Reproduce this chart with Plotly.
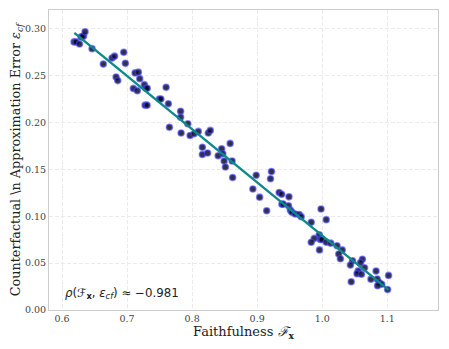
import plotly.graph_objects as go

# faithfulness vs counterfactual approximation error
faithfulness = [
    0.6185, 0.6215, 0.6269, 0.6292, 0.6331, 0.6315, 0.6354, 0.6462, 0.6635, 0.6769,
    0.6808, 0.6949, 0.6974, 0.6831, 0.6857, 0.7123, 0.7174, 0.7195, 0.7266, 0.7097,
    0.7158, 0.7290, 0.7310, 0.7277, 0.7308, 0.7497, 0.7520, 0.7600, 0.7635, 0.7651,
    0.7823, 0.7823, 0.7831, 0.7934, 0.7969, 0.8031, 0.8095, 0.8249, 0.8280, 0.8158,
    0.8158, 0.8238, 0.8400, 0.8454, 0.8472, 0.8492, 0.8512, 0.8585, 0.8615, 0.8623,
    0.8985, 0.9220, 0.9205, 0.8934, 0.9038, 0.9146, 0.9338, 0.9377, 0.9489, 0.9380,
    0.9400, 0.9482, 0.9511, 0.9534, 0.9585, 0.9646, 0.9677, 0.9831, 0.9982, 1.0062,
    0.9954, 0.9877, 0.9831, 0.9970, 0.9995, 1.0062, 1.0131, 0.9958, 1.0228, 1.0308,
    1.0254, 1.0280, 1.0466, 1.0434, 1.0618, 1.0588, 1.0651, 1.0554, 1.0535, 1.0603,
    1.0446, 1.0828, 1.0749, 1.0846, 1.0877, 1.0915, 1.0851, 1.1020, 1.1005,
]
approx_error = [
    0.2860, 0.2860, 0.2837, 0.2911, 0.2922, 0.2917, 0.2967, 0.2788, 0.2623, 0.2687,
    0.2708, 0.2749, 0.2631, 0.2486, 0.2447, 0.2529, 0.2537, 0.2468, 0.2404, 0.2364,
    0.2340, 0.2366, 0.2366, 0.2185, 0.2185, 0.2251, 0.2251, 0.2375, 0.2199, 0.1950,
    0.2119, 0.2057, 0.1888, 0.1987, 0.1862, 0.1880, 0.1905, 0.1888, 0.1916, 0.1736,
    0.1659, 0.1675, 0.1645, 0.1720, 0.1667, 0.1589, 0.1525, 0.1777, 0.1589, 0.1413,
    0.1437, 0.1478, 0.1400, 0.1291, 0.1204, 0.1058, 0.1253, 0.1234, 0.1207, 0.1129,
    0.1129, 0.1111, 0.1065, 0.1044, 0.1024, 0.1018, 0.0996, 0.0935, 0.1077, 0.0964,
    0.0803, 0.0764, 0.0723, 0.0753, 0.0753, 0.0723, 0.0713, 0.0641, 0.0686, 0.0641,
    0.0598, 0.0547, 0.0526, 0.0479, 0.0542, 0.0505, 0.0451, 0.0417, 0.0388, 0.0381,
    0.0302, 0.0415, 0.0329, 0.0331, 0.0294, 0.0275, 0.0260, 0.0369, 0.0219,
]
# fitted trend line end points
fit_x = [0.619, 1.102]
fit_y = [0.2956, 0.0214]

x_ticks = [0.6, 0.7, 0.8, 0.9, 1.0, 1.1]
y_ticks = [0.0, 0.05, 0.10, 0.15, 0.20, 0.25, 0.30]

SERIF = "DejaVu Serif"

fig = go.Figure()
fig.add_trace(go.Scatter(
    x=faithfulness, y=approx_error, mode="markers",
    marker=dict(size=6, color="rgba(5,5,25,0.82)",
                line=dict(color="rgba(70,70,255,0.6)", width=1.6)),
    showlegend=False,
))
fig.add_trace(go.Scatter(
    x=fit_x, y=fit_y, mode="lines",
    line=dict(color="#0b8a8a", width=2.4), showlegend=False,
))

fig.add_annotation(
    x=0.035, y=0.025, xref="x domain", yref="y domain",
    xanchor="left", yanchor="bottom", showarrow=False,
    text="<i>ρ</i>(<i>ℱ</i><sub><b>x</b></sub>, <i>ε<sub>cf</sub></i>) ≈ −0.981",
    font=dict(family="DejaVu Sans", size=11.8, color="#222"),
)

axis_common = dict(
    showgrid=True, gridcolor="#ebebeb", griddash="4px,2px", gridwidth=0.8,
    showline=True, linecolor="#cccccc", linewidth=1, mirror=True,
    zeroline=False, ticks="", automargin=False,
    tickfont=dict(family=SERIF, size=9.5, color="#444"),
)

fig.update_xaxes(
    range=[0.58, 1.178], tickvals=x_ticks, ticktext=[f"{v:.1f}" for v in x_ticks],
    title=dict(text="Faithfulness <i>ℱ</i><sub><b>x</b></sub>",
               font=dict(family=SERIF, size=13, color="#222"), standoff=0),
    **axis_common,
)
fig.update_yaxes(
    range=[0, 0.32], tickvals=y_ticks, ticktext=[f"{v:.2f}" for v in y_ticks],
    title=dict(text="Counterfactual \\n Approximation Error <i>ε<sub>cf</sub></i>",
               font=dict(family=SERIF, size=12.8, color="#222"), standoff=2),
    **axis_common,
)

# the page body adds an 8px offset, so the figure is sized to compensate
fig.update_layout(
    width=441, height=341,
    margin=dict(l=41, r=11, t=2, b=39),
    paper_bgcolor="white", plot_bgcolor="white",
)

fig.write_html("out.html")
